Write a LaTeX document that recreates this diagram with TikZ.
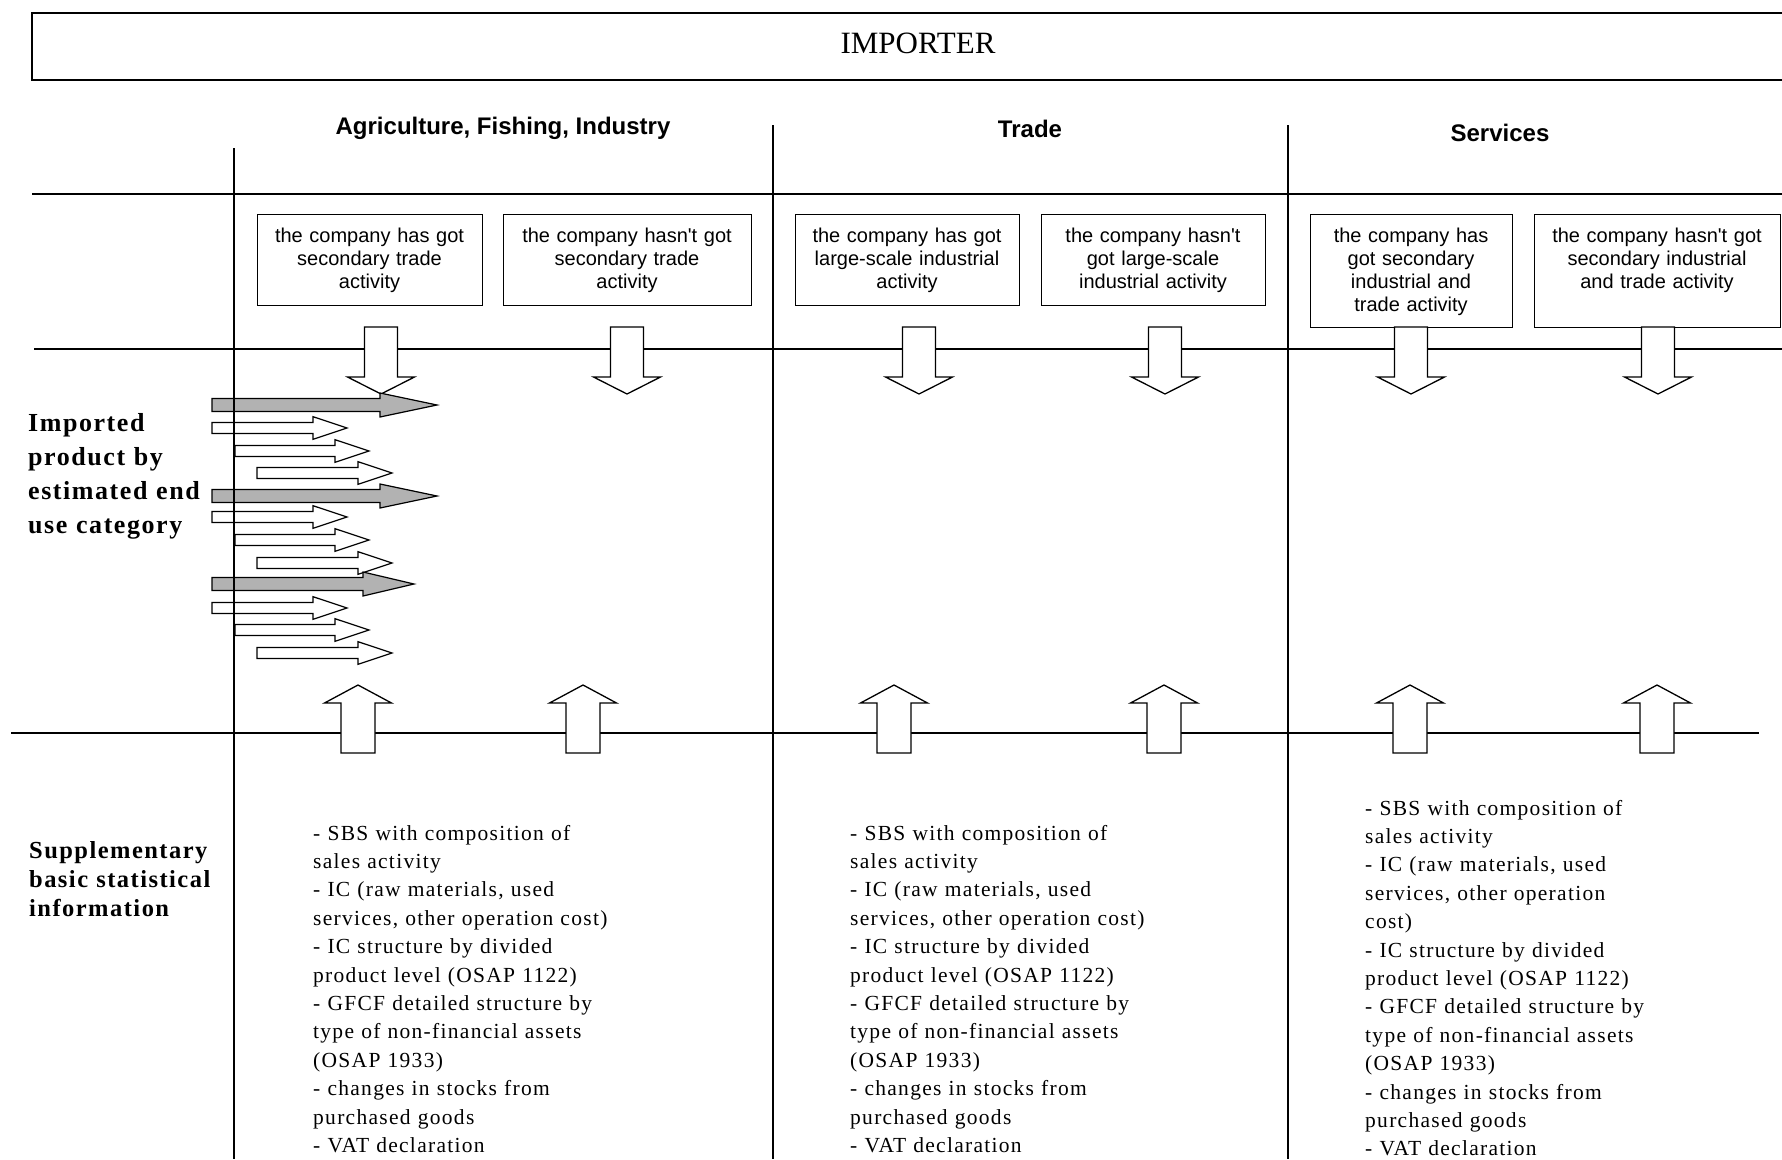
\documentclass[tikz,border=0pt]{standalone}
\usepackage{fontspec}
\setmainfont{Liberation Serif}
\newfontfamily\sansf{Liberation Sans}
\newfontfamily\txtf[LetterSpace=6]{Liberation Serif}
\newfontfamily\labf[LetterSpace=6]{Liberation Serif}
\newcommand{\rblock}[7]{\draw[#1] (#2,#5-#6) -- (#3,#5-#6) -- (#3,#5-#7) -- (#4,#5) -- (#3,#5+#7) -- (#3,#5+#6) -- (#2,#5+#6) -- cycle;}
\newcommand{\vblock}[7]{\draw[#1] (#2-#6,#3) -- (#2-#6,#4) -- (#2-#7,#4) -- (#2,#5) -- (#2+#7,#4) -- (#2+#6,#4) -- (#2+#6,#3) -- cycle;}
\begin{document}
\begin{tikzpicture}[x=1pt,y=-1pt,
  rule/.style={line width=1.3pt},
  frame/.style={line width=1.6pt},
  actbox/.style={draw, line width=1.3pt, inner sep=0pt, anchor=north west},
  boxtxt/.style={font=\sansf\fontsize{20}{23}\selectfont, align=center, anchor=base, inner sep=0pt, text width=#1},
  hdr/.style={font=\sansf\bfseries\fontsize{24}{28}\selectfont, anchor=base, inner sep=0pt},
  info/.style={font=\txtf\fontsize{21.5}{28.4}\selectfont, align=left, anchor=base west, inner sep=0pt, text width=420pt},
  lab/.style={font=\labf\bfseries, align=left, anchor=base west, inner sep=0pt, text width=200pt},
  blockarr/.style={draw, line width=1.3pt, fill=white, line join=miter},
  warr/.style={draw, line width=1.2pt, fill=white, line join=miter},
  garr/.style={draw, line width=1.2pt, fill=black!30, line join=miter}]
\useasboundingbox (0,0) rectangle (1782,1159);
\fill[white] (0,0) rectangle (1782,1159);

% importer frame (open on the right)
\draw[frame] (1782,13) -- (32,13) -- (32,80) -- (1782,80);
\node[font=\fontsize{31}{36}\selectfont, anchor=base, inner sep=0pt] (imp) at (918,53) {IMPORTER};

% column headers
\node[hdr] (h1) at (503,134) {Agriculture, Fishing, Industry};
\node[hdr] (h2) at (1030,137) {Trade};
\node[hdr] (h3) at (1500,141) {Services};

% horizontal rules
\draw[rule] (32,194) -- (1782,194);
\draw[rule] (34,349) -- (1782,349);
\draw[rule] (11,733) -- (1759,733);

% activity boxes
\node[actbox, minimum width=225pt, minimum height=91pt] (b1) at (257,214) {};
\node[actbox, minimum width=248pt, minimum height=91pt] (b2) at (503,214) {};
\node[actbox, minimum width=224pt, minimum height=91pt] (b3) at (795,214) {};
\node[actbox, minimum width=224pt, minimum height=91pt] (b4) at (1041,214) {};
\node[actbox, minimum width=202pt, minimum height=113pt] (b5) at (1310,214) {};
\node[actbox, minimum width=246pt, minimum height=113pt] (b6) at (1534,214) {};
\node[boxtxt=225pt] (t1) at (369.5,242) {the company has got\\secondary trade\\activity};
\node[boxtxt=248pt] (t2) at (627,242) {the company hasn't got\\secondary trade\\activity};
\node[boxtxt=224pt] (t3) at (907,242) {the company has got\\large-scale industrial\\activity};
\node[boxtxt=224pt] (t4) at (1153,242) {the company hasn't\\got large-scale\\industrial activity};
\node[boxtxt=202pt] (t5) at (1411,242) {the company has\\got secondary\\industrial and\\trade activity};
\node[boxtxt=246pt] (t6) at (1657,242) {the company hasn't got\\secondary industrial\\and trade activity};

% down block arrows
\vblock{blockarr}{381}{327}{377}{394}{16.5}{33.5}
\vblock{blockarr}{627}{327}{377}{394}{16.5}{33.5}
\vblock{blockarr}{919}{327}{377}{394}{16.5}{33.5}
\vblock{blockarr}{1165}{327}{377}{394}{16.5}{33.5}
\vblock{blockarr}{1411}{327}{377}{394}{16.5}{33.5}
\vblock{blockarr}{1658}{327}{377}{394}{16.5}{33.5}

% up block arrows
\vblock{blockarr}{358}{753}{703}{685}{17}{33.5}
\vblock{blockarr}{583}{753}{703}{685}{17}{33.5}
\vblock{blockarr}{894}{753}{703}{685}{17}{33.5}
\vblock{blockarr}{1164}{753}{703}{685}{17}{33.5}
\vblock{blockarr}{1410}{753}{703}{685}{17}{33.5}
\vblock{blockarr}{1657}{753}{703}{685}{17}{33.5}

% imported product arrows
\rblock{garr}{212}{380}{437}{405}{6.5}{12}
\rblock{warr}{212}{313}{347}{428}{5.5}{11.3}
\rblock{warr}{235}{335}{369}{451}{5.5}{11.3}
\rblock{warr}{257}{358}{392}{473}{5.5}{11.3}
\rblock{garr}{212}{380}{437}{496}{6.5}{12}
\rblock{warr}{212}{313}{347}{517}{5.5}{11.3}
\rblock{warr}{235}{335}{369}{540}{5.5}{11.3}
\rblock{warr}{257}{358}{392}{563}{5.5}{11.3}
\rblock{garr}{212}{363}{414}{584}{6.5}{12}
\rblock{warr}{212}{313}{347}{608}{5.5}{11.3}
\rblock{warr}{235}{335}{369}{630}{5.5}{11.3}
\rblock{warr}{257}{358}{392}{653}{5.5}{11.3}

% vertical rules
\draw[rule] (234,148) -- (234,1159);
\draw[rule] (773,125) -- (773,1159);
\draw[rule] (1288,125) -- (1288,1159);

% row labels
\node[lab, font=\labf\bfseries\fontsize{26}{34.3}\selectfont] (lab1) at (28,431) {Imported\\product by\\estimated end\\use category};
\node[lab, font=\labf\bfseries\fontsize{24.5}{29}\selectfont] (lab2) at (29,858) {Supplementary\\basic statistical\\information};

% supplementary information
\node[info] (i1) at (313,840) {- SBS with composition of\\sales activity\\- IC (raw materials, used\\services, other operation cost)\\- IC structure by divided\\product level (OSAP 1122)\\- GFCF detailed structure by\\type of non-financial assets\\(OSAP 1933)\\- changes in stocks from\\purchased goods\\- VAT declaration};
\node[info] (i2) at (850,840) {- SBS with composition of\\sales activity\\- IC (raw materials, used\\services, other operation cost)\\- IC structure by divided\\product level (OSAP 1122)\\- GFCF detailed structure by\\type of non-financial assets\\(OSAP 1933)\\- changes in stocks from\\purchased goods\\- VAT declaration};
\node[info] (i3) at (1365,815) {- SBS with composition of\\sales activity\\- IC (raw materials, used\\services, other operation\\cost)\\- IC structure by divided\\product level (OSAP 1122)\\- GFCF detailed structure by\\type of non-financial assets\\(OSAP 1933)\\- changes in stocks from\\purchased goods\\- VAT declaration};
\end{tikzpicture}
\end{document}
